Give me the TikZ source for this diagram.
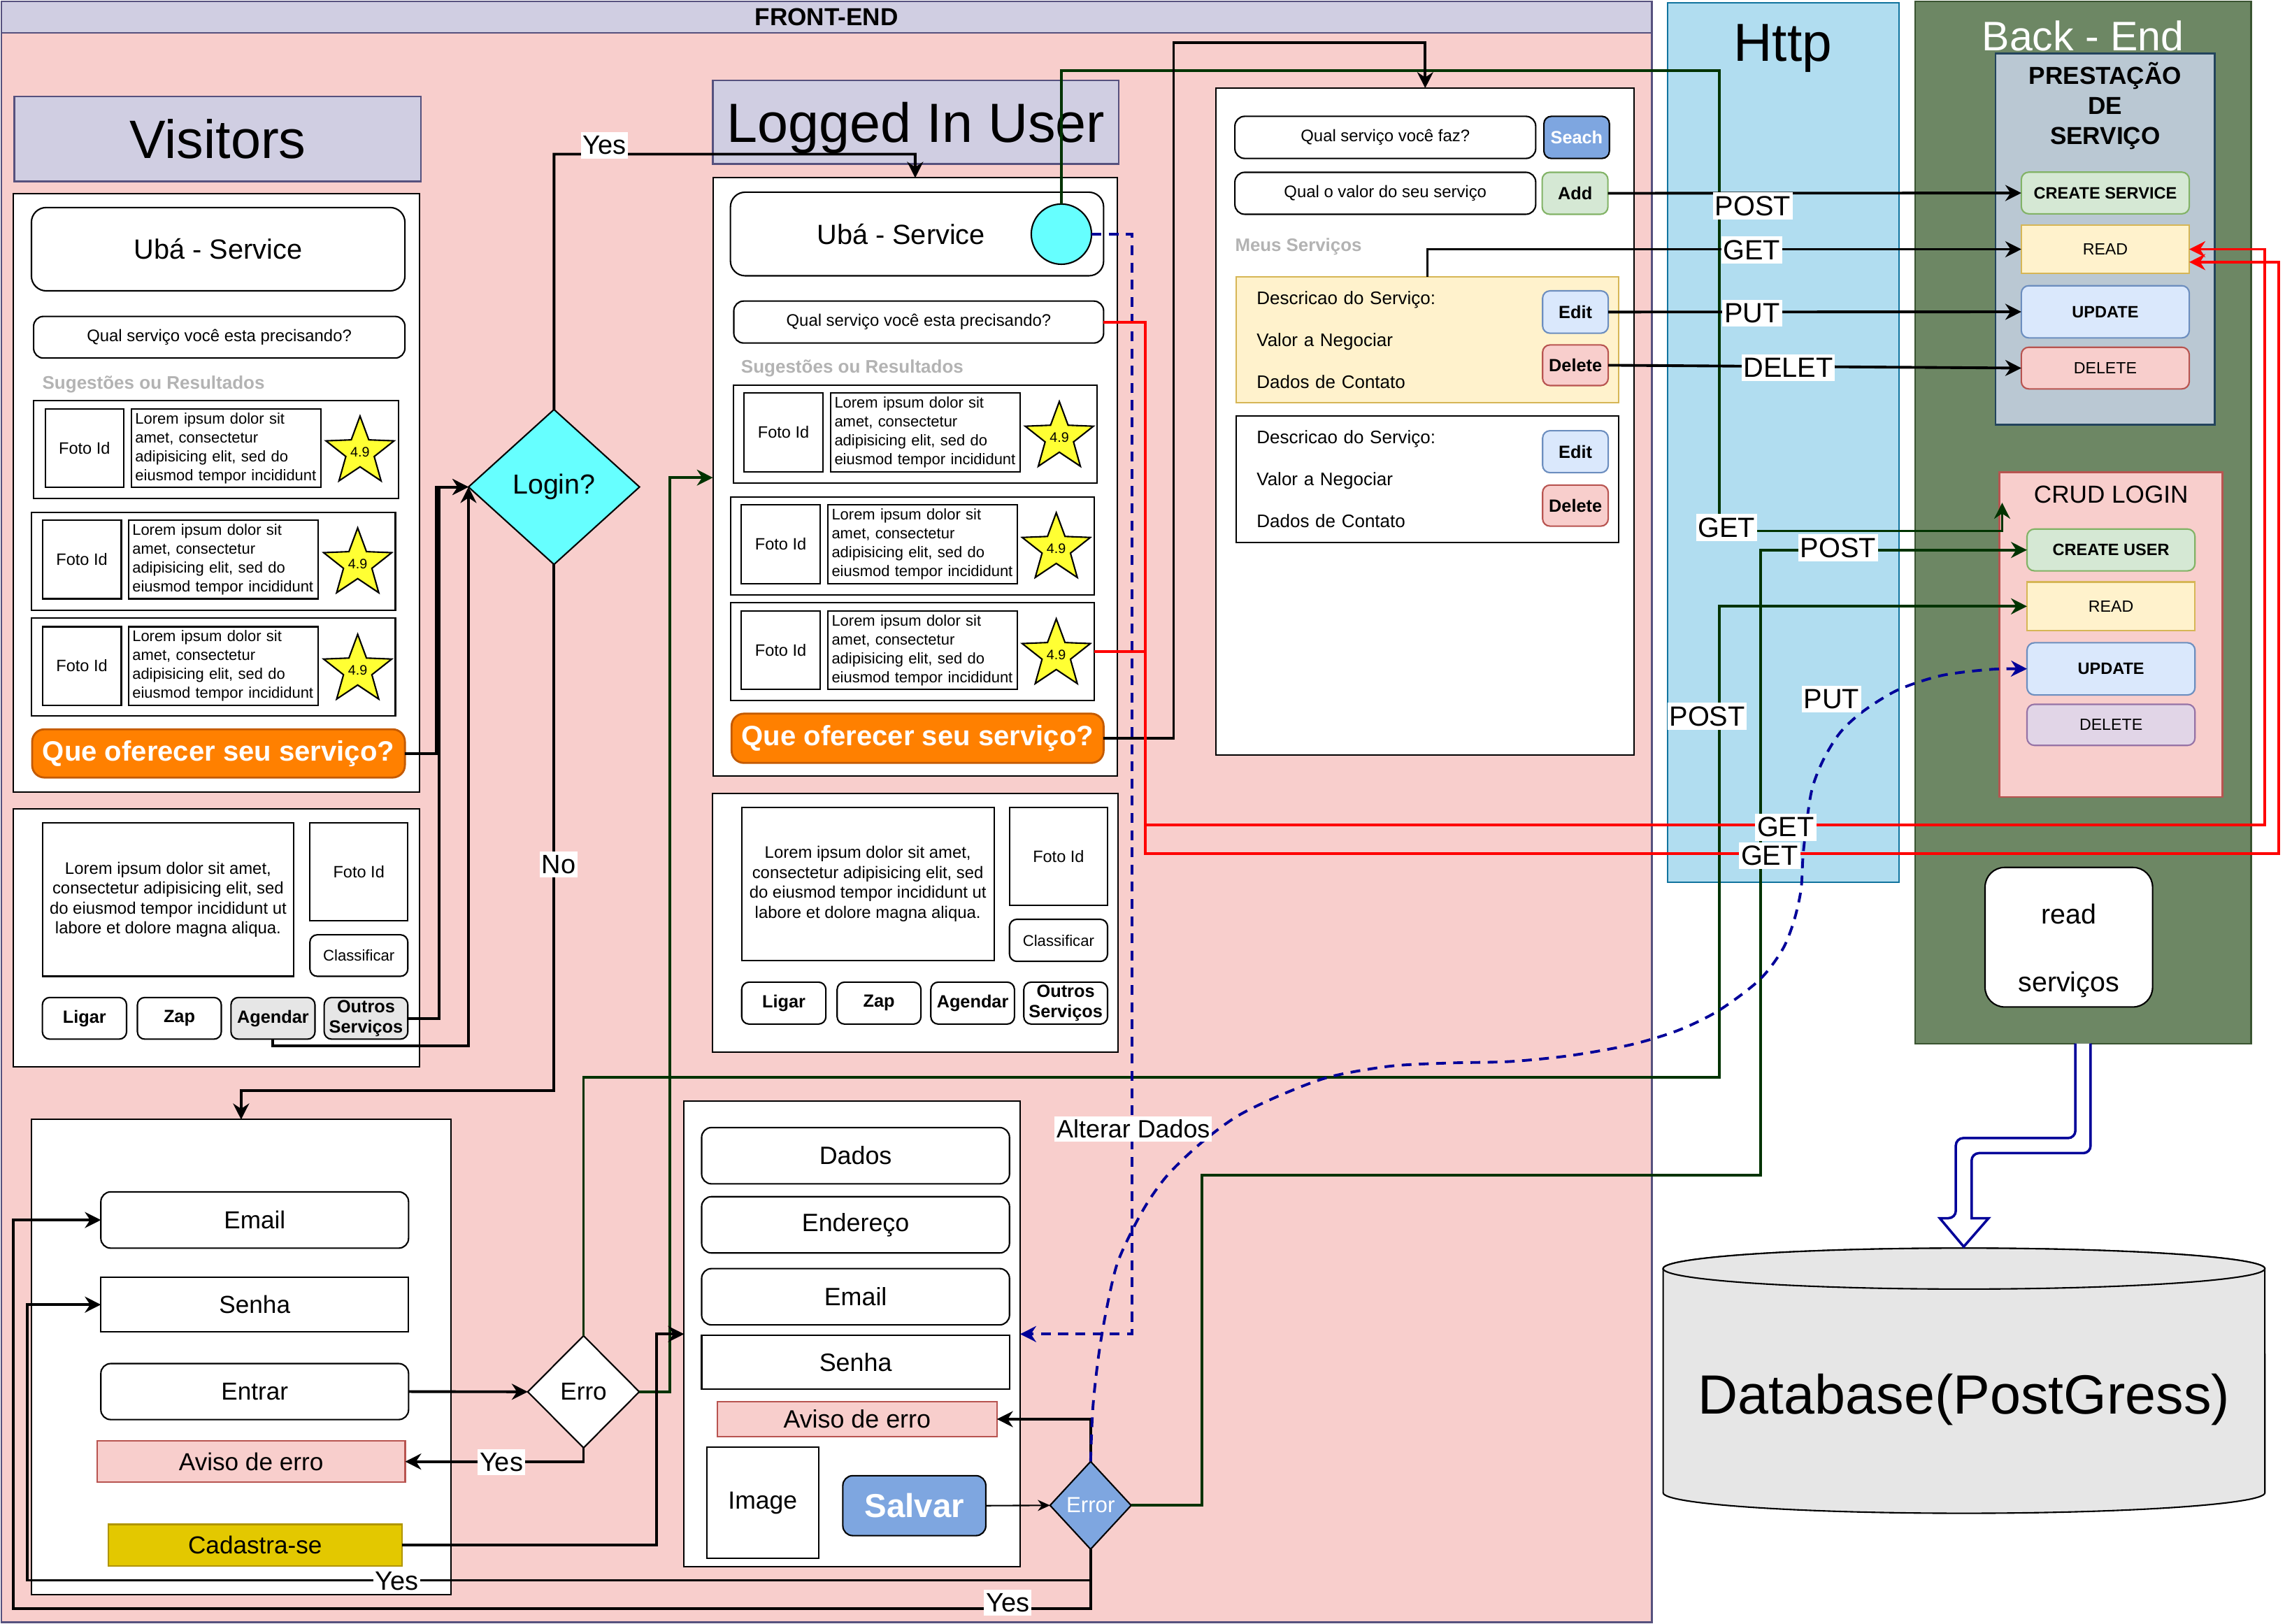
\documentclass[tikz,border=0pt]{standalone}
\usepackage{fontspec}
\setmainfont{Liberation Sans}
\usetikzlibrary{shapes.geometric,arrows.meta}
\definecolor{fepink}{HTML}{F8CECC}
\definecolor{fehead}{HTML}{D0CEE2}
\definecolor{festroke}{HTML}{56517E}
\definecolor{httpfill}{HTML}{B1DDF0}
\definecolor{httpstroke}{HTML}{10739E}
\definecolor{befill}{HTML}{6D8764}
\definecolor{bestroke}{HTML}{3A5431}
\definecolor{prfill}{HTML}{BAC8D3}
\definecolor{prstroke}{HTML}{23445D}
\definecolor{gfill}{HTML}{D5E8D4}
\definecolor{gstroke}{HTML}{82B366}
\definecolor{yfill}{HTML}{FFF2CC}
\definecolor{ystroke}{HTML}{D6B656}
\definecolor{bfill}{HTML}{DAE8FC}
\definecolor{bstroke}{HTML}{6C8EBF}
\definecolor{rfill}{HTML}{F8CECC}
\definecolor{rstroke}{HTML}{B85450}
\definecolor{pfill}{HTML}{E1D5E7}
\definecolor{pstroke}{HTML}{9673A6}
\definecolor{orfill}{HTML}{FF8000}
\definecolor{orstroke}{HTML}{C45A00}
\definecolor{cyanf}{HTML}{66FFFF}
\definecolor{salv}{HTML}{7EA6E0}
\definecolor{goldf}{HTML}{E3C800}
\definecolor{golds}{HTML}{B09500}
\definecolor{dkgreen}{HTML}{003300}
\definecolor{navy}{HTML}{000099}
\definecolor{graytxt}{HTML}{B3B3B3}
\definecolor{dbfill}{HTML}{E6E6E6}
\definecolor{btngray}{HTML}{E6E6E6}
\definecolor{staryel}{HTML}{FFFF33}
\newcommand\fs[2]{\fontsize{#1pt}{#2pt}\selectfont}
\def\ud{0.020906cm}
\newcommand\bx[7]{\node[#6,anchor=north west,minimum width={(#4-#2)*\ud},minimum height={(#5-#3)*\ud}] (#1) at (#2,#3) {#7};}
\newcommand\loremtxt{Lorem ipsum dolor sit\\amet, consectetur\\adipisicing elit, sed do\\eiusmod tempor incididunt}
\newcommand\loremlong{Lorem ipsum dolor sit amet,\\consectetur adipisicing elit, sed\\do eiusmod tempor incididunt ut\\labore et dolore magna aliqua.}
\tikzset{
 every node/.style={inner sep=0pt,outer sep=0pt},
 box/.style={draw=black,fill=white,line width=0.6pt},
 gbtn/.style={draw=gstroke,fill=gfill,rounded corners=3pt,line width=0.6pt},
 bbtn/.style={draw=bstroke,fill=bfill,rounded corners=3pt,line width=0.6pt},
 rbtn/.style={draw=rstroke,fill=rfill,rounded corners=3pt,line width=0.6pt},
 ybtn/.style={draw=ystroke,fill=yfill,line width=0.6pt},
 pbtn/.style={draw=pstroke,fill=pfill,rounded corners=3pt,line width=0.6pt},
 btn/.style={box,rounded corners=3pt,font=\bfseries\fs{7.2}{8.6}},
 foto/.style={box,font=\fs{6.7}{8}},
 lorem/.style={box,align=left,text width=74pt,font=\fs{6.25}{7.7}},
 star5/.style={star,star points=5,star point ratio=2.4,draw=black,fill=staryel,line width=0.6pt,minimum size={49*\ud},font=\fs{5.6}{6.5}},
 orbtn/.style={draw=orstroke,fill=orfill,rounded corners=5pt,line width=0.8pt,text=white,font=\bfseries\fs{11.4}{13.6}},
 conn/.style={draw=black,line width=1.1pt,-{Stealth[length=6.5pt,width=6.5pt]}},
 gconn/.style={conn,draw=dkgreen},
 rconn/.style={conn,draw=red},
 nconn/.style={conn,draw=navy,dash pattern=on 4pt off 3pt},
 lab/.style={fill=white,inner xsep=0.8pt,inner ysep=1.5pt,font=\fs{11.3}{13}},
 ylab/.style={fill=white,inner xsep=0.8pt,inner ysep=1.5pt,font=\fs{10.8}{12.5}},
}
\begin{document}
\begin{tikzpicture}[x=0.020906cm,y=-0.020906cm]
\fill[white] (0,0) rectangle (1568,1111);
\useasboundingbox (0,0) rectangle (1568,1111);
% ---------- containers
\bx{fe}{1}{1}{1130}{1110}{draw=festroke,fill=fepink,line width=0.8pt}{}
\bx{feh}{1}{1}{1130}{22.5}{draw=festroke,fill=fehead,line width=0.8pt,font=\bfseries\fs{10}{12}}{FRONT-END}
\bx{http}{1141}{2}{1299}{603.5}{draw=httpstroke,fill=httpfill,line width=0.6pt}{}
\node[font=\fs{21.8}{26}] (httpt) at (1219.6,33) {Http};
\bx{be}{1310}{1}{1540}{714}{draw=bestroke,fill=befill,line width=0.6pt}{}
\node[font=\fs{16.8}{20},text=white] (bet) at (1425,24.5) {Back - End};
% ---------- back-end: prestacao
\bx{prest}{1365.2}{36.5}{1515.3}{290.7}{draw=prstroke,fill=prfill,line width=0.8pt}{}
\node[font=\bfseries\fs{10}{12.3},align=center] (prestt) at (1440.2,72.4) {PRESTAÇÃO\\DE\\SERVIÇO};
\bx{cs}{1382.8}{117.8}{1497.7}{146.3}{gbtn,font=\bfseries\fs{6.7}{8}}{CREATE SERVICE}
\bx{pread}{1382.8}{153.9}{1497.7}{187.2}{ybtn,font=\fs{6.6}{8}}{READ}
\bx{pupd}{1382.8}{195.5}{1497.7}{231.2}{bbtn,font=\bfseries\fs{6.7}{8}}{UPDATE}
\bx{pdel}{1382.8}{237.6}{1497.7}{266.1}{rbtn,font=\fs{6.6}{8}}{DELETE}
% ---------- back-end: crud login
\bx{crud}{1367.9}{323.2}{1520.4}{545.3}{draw=rstroke,fill=rfill,line width=0.8pt}{}
\node[font=\fs{10}{12}] (crudt) at (1444.2,338.3) {CRUD LOGIN};
\bx{cu}{1386.7}{362}{1501.6}{390.6}{gbtn,font=\bfseries\fs{6.7}{8}}{CREATE USER}
\bx{cread}{1386.7}{398.2}{1501.6}{431.5}{ybtn,font=\fs{6.6}{8}}{READ}
\bx{cupd}{1386.7}{439.8}{1501.6}{475.5}{bbtn,font=\bfseries\fs{6.7}{8}}{UPDATE}
\bx{cdel}{1386.7}{481.9}{1501.6}{510}{pbtn,font=\fs{6.6}{8}}{DELETE}
\bx{rs}{1358}{593.5}{1472.6}{689}{box,rounded corners=8pt,align=center,font=\fs{11.2}{27.7}}{\rule{0pt}{19pt}read\\serviços}
% ---------- database
\path[draw=black,fill=dbfill,line width=0.6pt] (1137.8,868) -- (1137.8,1021.4) arc[start angle=180,end angle=360,x radius=4.3025cm,y radius=0.2927cm] -- (1549.4,868) arc[start angle=0,end angle=180,x radius=4.3025cm,y radius=0.2927cm] -- cycle;
\draw[fill=dbfill,line width=0.6pt] (1343.6,868) ellipse[x radius=4.3025cm,y radius=0.2927cm];
\node[font=\fs{22.5}{27}] (db) at (1343.6,957.4) {Database(PostGress)};
\draw[navy,line width=1pt,fill=white] (1419.8,714) [rounded corners=3pt] -- (1419.8,778.7) -- (1338,778.7) -- (1338,833.5) [sharp corners] -- (1327,833.5) -- (1343.4,853) -- (1360.4,833.5) -- (1348.8,833.5) [rounded corners=3pt] -- (1348.8,789) -- (1430.2,789) [sharp corners] -- (1430.2,714);
% ---------- right pane (service management)
\bx{rp}{832}{60.3}{1118}{516.7}{box}{}
\bx{q1}{844.8}{79.6}{1050.6}{108.4}{box,rounded corners=4pt,font=\fs{6.8}{8}}{Qual serviço você faz?}
\bx{seach}{1056.2}{79.6}{1101}{108.4}{draw=black,fill=salv,rounded corners=3pt,line width=0.6pt,text=white,font=\bfseries\fs{7.2}{8.6}}{Seach}
\bx{q2}{844.8}{117.9}{1050.6}{146.6}{box,rounded corners=4pt,font=\fs{6.8}{8}}{Qual o valor do seu serviço}
\bx{add}{1055}{117.9}{1100}{146.6}{gbtn,font=\bfseries\fs{7.2}{8.6}}{Add}
\node[anchor=west,text=graytxt,font=\bfseries\fs{7.35}{9}] (meus) at (845,168.7) {Meus Serviços};
\bx{s1}{845.6}{189.4}{1107.4}{275.7}{ybtn,align=left,text width=138.9pt,inner xsep=8.4pt,font=\fs{7.4}{17.07}}{Descricao do Serviço:\\Valor a Negociar\\Dados de Contato}
\bx{edit1}{1055.3}{199}{1100.2}{228}{bbtn,font=\bfseries\fs{7.2}{8.6}}{Edit}
\bx{del1}{1055.3}{236}{1100.2}{263.8}{rbtn,font=\bfseries\fs{7.2}{8.6}}{Delete}
\bx{s2}{845.6}{284.8}{1107.4}{371.1}{box,align=left,text width=138.9pt,inner xsep=8.4pt,font=\fs{7.4}{17.07}}{Descricao do Serviço:\\Valor a Negociar\\Dados de Contato}
\bx{edit2}{1055.3}{294.7}{1100.2}{323.4}{bbtn,font=\bfseries\fs{7.2}{8.6}}{Edit}
\bx{del2}{1055.3}{331.9}{1100.2}{360}{rbtn,font=\bfseries\fs{7.2}{8.6}}{Delete}
% ---------- visitors
\bx{vt}{10}{66}{288}{124}{draw=festroke,fill=fehead,line width=0.8pt,font=\fs{22}{26}}{Visitors}
\bx{vpage}{9}{132.5}{287}{542}{box}{}
\bx{vuba}{21.5}{142}{277}{199}{box,rounded corners=6pt,font=\fs{11.3}{13.5}}{Ubá - Service}
\bx{vq}{23}{216.5}{277}{245}{box,rounded corners=4pt,font=\fs{6.8}{8}}{Qual serviço você esta precisando?}
\node[anchor=west,text=graytxt,font=\bfseries\fs{7.4}{9}] (vsug) at (29,263) {Sugestões ou Resultados};
\bx{vc1}{23}{274}{272.5}{341}{box}{}
\bx{vf1}{31}{280}{84.6}{333.5}{foto}{Foto Id}
\bx{vl1}{90}{280}{219.5}{333.5}{lorem}{\loremtxt}
\node[star5] (vs1) at (246.3,309.2) {4.9};
\bx{vc2}{21.5}{350.6}{270.5}{417.4}{box}{}
\bx{vf2}{29}{356}{83}{409.7}{foto}{Foto Id}
\bx{vl2}{88}{356}{217.5}{409.7}{lorem}{\loremtxt}
\node[star5] (vs2) at (244.7,385.7) {4.9};
\bx{vc3}{21.5}{423}{270.5}{490}{box}{}
\bx{vf3}{29}{428.8}{83}{482.5}{foto}{Foto Id}
\bx{vl3}{88}{428.8}{217.5}{482.5}{lorem}{\loremtxt}
\node[star5] (vs3) at (244.7,458.5) {4.9};
\bx{vorange}{22}{499}{277}{532}{orbtn}{Que oferecer seu serviço?}
\bx{vd}{9}{553.6}{287}{730}{box}{}
\bx{vdl}{29}{563}{201}{668}{box,align=center,font=\fs{6.8}{8.1}}{\loremlong}
\bx{vdf}{212}{563}{279}{630}{foto}{Foto Id}
\bx{vdc}{212}{639.6}{279}{668}{box,rounded corners=3pt,font=\fs{6.3}{7.5}}{Classificar}
\bx{vlig}{29}{682.5}{86.6}{711}{btn}{Ligar}
\bx{vzap}{94}{682.5}{151.4}{711}{btn}{Zap}
\bx{vage}{158}{682.5}{215.5}{711}{btn,fill=btngray}{Agendar}
\bx{vout}{221.8}{682.5}{279}{711}{btn,fill=btngray,align=center,font=\bfseries\fs{7.2}{8.2}}{Outros\\Serviços}
\node[diamond,draw=black,fill=cyanf,line width=0.6pt,minimum width={117*\ud},minimum height={106*\ud},font=\fs{11.2}{13.5}] (login) at (379,333.2) {Login?};
% ---------- login form
\bx{lf}{21.5}{766}{308.4}{1091}{box}{}
\bx{lemail}{69}{815.5}{279.5}{854}{box,rounded corners=4pt,font=\fs{10}{12}}{Email}
\bx{lsenha}{69}{874}{279.5}{911.3}{box,font=\fs{10}{12}}{Senha}
\bx{lentrar}{69}{933}{279.5}{971.3}{box,rounded corners=4pt,font=\fs{10}{12}}{Entrar}
\bx{laviso}{66.4}{985.9}{277.2}{1014.2}{draw=rstroke,fill=rfill,line width=0.6pt,font=\fs{10}{12}}{Aviso de erro}
\bx{lcad}{74}{1043}{275}{1071.6}{draw=golds,fill=goldf,line width=0.6pt,font=\fs{10}{12}}{Cadastra-se}
\node[diamond,draw=black,fill=white,line width=0.6pt,minimum width={76.3*\ud},minimum height={76.7*\ud},font=\fs{10}{12}] (erro) at (399.2,952.3) {Erro};
% ---------- logged in user
\bx{lt}{487.7}{55}{765.3}{112.3}{draw=festroke,fill=fehead,line width=0.8pt,text depth=0pt,font=\fs{22.5}{27}}{Logged In User}
\bx{lp}{487.7}{121.7}{764.5}{531}{box}{}
\bx{luba}{499.7}{131.5}{755}{188.7}{box,rounded corners=6pt,font=\fs{11.3}{13.5}}{Ubá - Service\hspace*{13pt}}
\node[circle,draw=black,fill=cyanf,line width=0.6pt,minimum size={41.2*\ud}] (avatar) at (726.1,160.2) {};
\bx{lq}{502}{206}{755}{234.7}{box,rounded corners=4pt,font=\fs{6.8}{8}}{Qual serviço você esta precisando?}
\node[anchor=west,text=graytxt,font=\bfseries\fs{7.4}{9}] (lsug) at (507,252.2) {Sugestões ou Resultados};
\bx{lc1}{501.8}{263.5}{750.4}{330.5}{box}{}
\bx{lf1}{509}{269}{563}{322.7}{foto}{Foto Id}
\bx{ll1}{568.4}{269}{697.8}{322.7}{lorem}{\loremtxt}
\node[star5] (ls1) at (724.7,299.2) {4.9};
\bx{lc2}{499.7}{340}{748.7}{407}{box}{}
\bx{lf2}{507}{345.5}{561.2}{399.2}{foto}{Foto Id}
\bx{ll2}{566.3}{345.5}{696.1}{399.2}{lorem}{\loremtxt}
\node[star5] (ls2) at (722.6,375.3) {4.9};
\bx{lc3}{499.7}{412.5}{748.7}{479.5}{box}{}
\bx{lf3}{507}{418}{561.2}{471.8}{foto}{Foto Id}
\bx{ll3}{566.3}{418}{696.1}{471.8}{lorem}{\loremtxt}
\node[star5] (ls3) at (722.6,447.9) {4.9};
\bx{lorange}{500.5}{488.3}{755}{522}{orbtn}{Que oferecer seu serviço?}
\bx{ld}{487.3}{543}{765}{720}{box}{}
\bx{ldl}{507.4}{552.3}{680}{657.4}{box,align=center,font=\fs{6.8}{8.1}}{\loremlong}
\bx{ldf}{690.6}{552.3}{757.7}{619.4}{foto}{Foto Id}
\bx{ldc}{690.6}{629}{757.7}{657.8}{box,rounded corners=3pt,font=\fs{6.3}{7.5}}{Classificar}
\bx{ldlig}{507.4}{672}{565}{700.7}{btn}{Ligar}
\bx{ldzap}{572.7}{672}{630}{700.7}{btn}{Zap}
\bx{ldage}{636.8}{672}{694}{700.7}{btn}{Agendar}
\bx{ldout}{700.4}{672}{757.7}{700.7}{btn,align=center,font=\bfseries\fs{7.2}{8.2}}{Outros\\Serviços}
% ---------- registration
\bx{reg}{468}{753.2}{697.9}{1072}{box}{}
\bx{rdados}{480}{771.5}{690.6}{810}{box,rounded corners=4pt,font=\fs{10.2}{12}}{Dados}
\bx{rend}{480}{818.8}{690.6}{857.3}{box,rounded corners=4pt,font=\fs{10.2}{12}}{Endereço}
\bx{remail}{480}{868}{690.6}{906.5}{box,rounded corners=4pt,font=\fs{10.2}{12}}{Email}
\bx{rsenha}{480}{913.5}{690.6}{950.5}{box,font=\fs{10.2}{12}}{Senha}
\bx{raviso}{490.7}{959}{682}{983}{draw=rstroke,fill=rfill,line width=0.6pt,font=\fs{10.2}{12}}{Aviso de erro}
\bx{rimg}{483.5}{990}{560}{1066.4}{box,font=\fs{10.1}{12}}{Image}
\bx{rsalvar}{576.6}{1009.7}{674.4}{1050.7}{draw=black,fill=salv,rounded corners=4pt,line width=0.6pt,text=white,font=\bfseries\fs{13.5}{16}}{Salvar}
\node[diamond,draw=black,fill=salv,line width=0.6pt,minimum width={55.5*\ud},minimum height={60*\ud},text=white,font=\fs{8.9}{10.5}] (rerr) at (746.1,1030) {Error};
% ---------- waypoints
\coordinate (g8) at (458.4,326.8);
\coordinate (g9a) at (1176.3,737);
\coordinate (c10) at (449,912.8);
\coordinate (c13) at (18.5,1081.3);
\coordinate (c14) at (9,1100.7);
\coordinate (g15a) at (822.2,804);
\coordinate (g15b) at (1204.6,804);
\coordinate (g16a) at (1176.3,48.4);
\coordinate (g16b) at (1176.3,363.3);
\coordinate (cend) at (1369.7,344);
\coordinate (n17) at (774.3,912.8);
\coordinate (k19a) at (802.9,29.1);
\coordinate (r24a) at (783.5,584);
\coordinate (r24b) at (1559,584);
\coordinate (r24c) at (1559,179.3);
\coordinate (r25a) at (783.5,564.6);
\coordinate (r25b) at (1549.3,564.6);
% ---------- connectors
\draw[conn] (vorange.east) -| (298.4,333.2) -- (login.west);
\draw[conn] (vout.east) -| (300.4,333.2) -- (login.west);
\draw[conn] (vage.south) -- ++(0,4.7) -| (login.west);
\draw[conn] (login.north) |- (626.1,105.5) -- (lp.north);
\draw[conn] (login.south) |- (164.95,746.2) -- (lf.north);
\draw[conn] (lentrar.east) -- (erro.west);
\draw[conn] (erro.south) |- (laviso.east);
\draw[gconn] (erro.east) -| (g8) -- (lp.west |- g8);
\draw[gconn] (erro.north) |- (g9a) |- (cread.west);
\draw[conn] (lcad.east) -| (c10) -- (reg.west |- c10);
\draw[draw=black,line width=0.6pt,-{Stealth[length=5pt,width=4.5pt]}] (rsalvar.east) -- (rerr.west);
\draw[conn] (rerr.north) |- (raviso.east);
\draw[conn] (rerr.south) |- (c13) |- (lsenha.west);
\draw[conn] (rerr.south) |- (c14) |- (lemail.west);
\draw[gconn] (rerr.east) -| (g15a) -- (g15b) |- (cu.west);
\draw[gconn] (avatar.north) |- (g16a) -- (g16b) -| (cend);
\draw[nconn] (avatar.east) -| (n17) -- (reg.east |- n17);
\draw[nconn] plot[smooth,tension=0.5] coordinates {(rerr.north) (747.7,962.5) (751.8,925.9) (757.3,894.2) (764.2,864.9) (775.2,840.5) (786.2,821) (799.9,802.7) (821.8,781.9) (846.6,763.6) (876.8,749) (909.7,736.8) (950.9,729.5) (992.1,727.3) (1033.3,726.3) (1074.5,722.2) (1115.7,714.8) (1148,705) (1175.5,691.6) (1203.3,670.8) (1219.2,650.1) (1227.1,630.6) (1232.1,608.6) (1233.8,581.8) (1239,542.7) (1246.9,520.8) (1258.8,501.3) (1274.7,486.6) (1298.5,472) (1328.2,462.2) (1362,458) (cupd.west)};
\draw[conn] (lorange.east) -| (k19a) -| (rp.north);
\draw[conn] (add.east) -- (cs.west);
\draw[conn] (s1.north) |- (pread.west);
\draw[conn] (edit1.east) -- (pupd.west);
\draw[conn] (del1.east) -- (pdel.west);
\draw[rconn] (lq.east) -| (r24a) -- (r24b) -- (r24c) -- (pread.east |- r24c);
\draw[rconn] (lc3.east) -| (r25a) -- (r25b) |- (pread.east);
% ---------- labels
\node[ylab] (lbyes1) at (413.6,99.5) {Yes};
\node[ylab] (lbno) at (382.2,591.3) {No};
\node[ylab] (lbyes2) at (343,1000.6) {Yes};
\node[ylab] (lbyes3) at (271.4,1081.7) {Yes};
\node[ylab] (lbyes4) at (689.4,1096.6) {Yes};
\node[ylab,font=\fs{10.2}{12}] (lbalt) at (775.3,772.5) {Alterar Dados};
\node[lab] (lbpost1) at (1199.2,140.8) {POST};
\node[lab] (lbget1) at (1198.4,171) {GET};
\node[lab] (lbput1) at (1198.7,214.3) {PUT};
\node[lab] (lbdel) at (1223.3,251.5) {DELET};
\node[lab] (lbget2) at (1181.2,361) {GET};
\node[lab] (lbpost2) at (1257.4,374.8) {POST};
\node[lab] (lbpost3) at (1167.9,490) {POST};
\node[lab] (lbput2) at (1253,478.5) {PUT};
\node[lab] (lbget3) at (1221.6,566) {GET};
\node[lab] (lbget4) at (1210.6,585.4) {GET};
\end{tikzpicture}
\end{document}
